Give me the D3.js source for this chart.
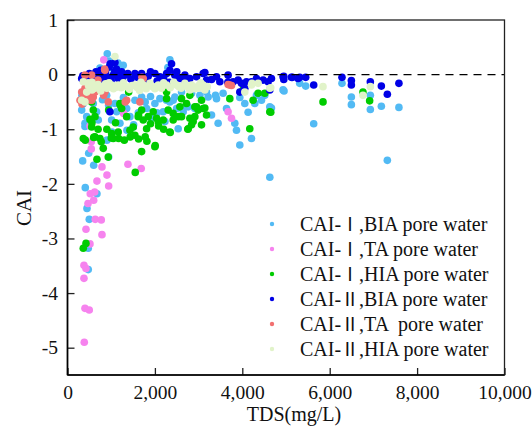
<!DOCTYPE html>
<html>
<head>
<meta charset="utf-8">
<script src="https://cdn.jsdelivr.net/npm/d3@7"></script>
<style>
  html, body { margin: 0; padding: 0; background: #fff; }
  svg { display: block; }
</style>
</head>
<body>
<svg id="chart" width="532" height="427"></svg>
<script>
// Axis ticks
const xTicks = [0, 2000, 4000, 6000, 8000, 10000];
const yTicks = [-5, -4, -3, -2, -1, 0, 1];

// [TDS (mg/L), CAI] for each group
const caiIBIA = [
  [4955,-0.30],[5314,-0.16],[5451,-0.21],[6281,-0.16],[5634,-0.90],[6496,-0.41],[6496,-0.55],[6930,-0.38],[6930,-0.64],[7182,-0.58],[7584,-0.60],[7319,-1.57],
  [2418,-0.47],[2686,-0.59],[2761,-0.59],[2647,-0.68],[3218,-0.41],[3387,-0.38],[3943,-0.42],[4057,-0.53],[4514,-0.38],[4667,-0.61],[4133,-0.69],[3447,-0.89],[3829,-0.89],[2533,-0.99],[2267,-0.47],
  [325,-0.65],[439,-0.77],[400,-0.89],[590,-0.53],[667,-0.68],[704,-0.83],[896,-0.38],[1086,-0.53],[1125,-0.68],[1010,-0.83],[1200,-0.89],[1353,-0.62],[1429,-0.77],[1504,-0.96],[1543,-0.47],[1696,-0.41],[1810,-0.62],[1924,-0.80],[2000,-0.53],[2114,-0.44],[2190,-0.68],[2229,-0.86],[2343,-0.50],[2457,-0.41],[2496,-0.62],[2610,-0.32],[2839,-0.34],[2914,-0.62],[3029,-0.38],[3181,-0.32],[3296,-0.74],[3410,-0.44],[3561,-0.34],[3639,-0.62],[3867,-1.02],[3943,-1.29],[4210,-1.17],[4286,-0.53],[4324,-0.38],[4439,-0.47],[4629,-0.59],[4933,-0.28],[4630,-1.88],
  [910,0.38],[955,0.25],[1275,0.17],[1154,0.21],[2343,0.27],[2297,0.13],[1017,0.12],[743,0.12],[1207,0.14],
  [400,-0.95],[1017,-1.05],[1360,-1.02],[903,-1.20],[485,-1.44],[347,-1.58],[599,-1.66],[942,-1.51],[407,-2.07],[674,-2.18],[446,-2.45],[498,-2.65],[475,-3.18],[475,-3.57],
  [354,-0.54],[331,-0.38],[942,-0.56],[1513,-0.92],[1778,-0.50],[560,-0.40],[800,-0.46],[1280,-0.42],[1620,-0.70],[2050,-0.70],[1900,-0.40]
];
const caiITA = [
  [830,0.27],[3675,-0.68],[3753,-0.80],[544,-1.23],[544,-1.36],[789,-1.69],[903,-1.84],[674,-1.95],[942,-2.04],[1383,-1.64],[1687,-1.72],[521,-2.18],[622,-2.15],[599,-2.30],[469,-2.36],[635,-2.65],[773,-2.66],[423,-2.83],[789,-2.93],[514,-3.10],[377,-3.49],[423,-3.55],[377,-3.73],[400,-4.28],[498,-4.31],[384,-4.90],[1285,-0.71],[514,-0.94]
];
const caiIHIA = [
  [5847,-0.50],[6914,-0.48],[6761,-0.32],
  [2267,-0.32],[2267,-0.44],[2610,-0.44],[2571,-0.59],[2418,-0.71],[2610,-0.77],[2800,-0.80],[2953,-0.59],[2990,-0.65],[3143,-0.61],[3181,-0.74],[2914,-0.77],[3714,-0.44],[4247,-0.47],[4362,-0.34],[4651,-0.69],[3067,-0.92],[2839,-0.92],[4171,-0.99],
  [361,-1.17],[553,-0.50],[590,-0.65],[629,-0.77],[553,-0.96],[629,-1.14],[743,-1.17],[818,-1.35],[933,-1.51],[1010,-1.08],[1047,-1.17],[1161,-1.05],[1200,-0.53],[1239,-0.62],[1353,-0.77],[1429,-1.02],[1504,-0.96],[1543,-1.11],[1618,-0.77],[1696,-0.65],[1733,-0.83],[1810,-0.99],[1847,-0.77],[1961,-0.68],[2000,-1.32],[2039,-0.80],[2076,-0.86],[2190,-0.83],[2304,-0.65],[2343,-1.05],[2418,-0.83],[2533,-0.77],[2724,-0.53],[2800,-0.38],[2761,-0.99],[2876,-0.86],[2914,-0.59],[3067,-0.47],[3104,-0.62],[4019,-0.28],[4514,-0.34],[4629,-0.68],[1696,-1.41],
  [407,-1.20],[599,-1.15],[773,-1.23],[674,-1.55],[1001,-1.16],[1170,-1.17],[1435,-1.14],[1627,-1.18],[1778,-1.14],[1817,-1.22],[2085,-0.94],[2007,-1.30],[2350,-1.06],[1550,-1.79],[2754,-1.00],[361,-3.18],[423,-3.09],
  [942,-0.65],[1207,-0.56],[1399,-0.32],[1627,-0.74],[514,-0.82],[560,-0.88],[700,-1.00],[1100,-0.88],[1300,-1.20],[900,-1.00],[1900,-0.90],[2200,-1.00]
];
const caiIIBIA = [
  [325,-0.07],[400,-0.13],[590,-0.01],[704,-0.04],[818,-0.01],[955,0.14],[1047,-0.01],[1161,-0.07],[1239,0.05],[1314,-0.01],[1543,0.02],[1696,0.02],[1847,-0.03],[2000,0.02],[2114,-0.04],[2267,0.02],[2343,0.08],[2457,-0.01],[2571,-0.07],[2686,-0.01],[2800,-0.07],[2953,-0.04],[3104,0.02],[3181,-0.10],[3296,-0.09],[3410,-0.04],[3486,-0.13],[3675,-0.01],[3790,-0.13],[3904,-0.10],[3981,-0.16],[4096,-0.13],[4210,-0.13],[4324,-0.07],[4476,-0.10],[4590,-0.13],[4667,-0.07],[4933,-0.04],[5124,-0.05],[5276,-0.07],
  [2381,0.20],[3143,0.04],[3943,-0.32],[4057,-0.25],[4629,-0.28],[3669,-0.14],[1086,0.22],
  [350,-0.02],[450,-0.05],[500,0.02],[560,-0.10],[650,0.05],[760,0.08],[780,-0.08],[870,0.05],[900,-0.04],[980,0.20],[1000,-0.10],[1080,0.05],[1120,0.10],[1180,-0.02],[1260,-0.12],[1380,0.02],[1450,-0.08],[1600,-0.05],[1750,-0.10],[1900,0.05],[2050,-0.12],[2200,-0.06],[2330,-0.14],[2500,0.05],[2650,-0.08],[971,-0.68],
  [4949,-0.03],[4949,-0.09],[5147,-0.05],[5314,-0.05],[5451,-0.05],[5634,-0.19],[6281,-0.05],[6496,-0.11],[6496,-0.19],[6930,-0.13],[7182,-0.21],[7319,-0.36],[7584,-0.16]
];
const caiIITA = [
  [553,-0.01],[850,0.10],[1703,-0.05],[1733,-0.07],[407,-0.41],[521,-0.47],[400,-0.25],[439,-0.32],[361,-0.41],[475,-0.38],[590,-0.41],[629,-0.32],[743,-0.28],[857,-0.32],[933,-0.50],[827,-0.38],[1353,-0.47],[1321,-0.50],[1657,-0.50],[325,-0.32],[553,-0.47],[857,0.08],[400,-0.01],[3675,-0.18],[3753,-0.20],[3710,-0.19],[286,-0.47],[331,-0.54],[697,-0.10],[743,-0.25]
];
const caiIIHIA = [
  [1086,0.33],[439,-0.32],[325,-0.47],[400,-0.50],[629,-0.25],[818,-0.22],[1010,-0.19],[1161,-0.19],[1353,-0.22],[1543,-0.19],[1733,-0.19],[1886,-0.16],[2076,-0.19],[2267,-0.19],[2496,-0.19],[2686,-0.16],[2839,-0.19],[2990,-0.25],[3104,-0.19],[3143,-0.28],[4057,-0.32],[4210,-0.19],[4362,-0.16],[4629,-0.25],[4222,-0.16],[4651,-0.24],[5847,-0.22],[6761,-0.38],[6930,-0.22],
  [480,-0.20],[560,-0.28],[700,-0.18],[760,-0.30],[900,-0.25],[950,-0.15],[1050,-0.26],[1230,-0.24],[1280,-0.15],[1420,-0.27],[1600,-0.24],[1680,-0.14],[1800,-0.26],[1950,-0.22],[2150,-0.25],[2350,-0.24],[2430,-0.14],[2600,-0.25],[2750,-0.22],[2900,-0.26],[3050,-0.15],[3200,-0.22],[360,-0.13],[470,-0.15],[560,-0.14],
  [650,-0.20],[870,-0.17],[1120,-0.23],[1480,-0.20],[1650,-0.29],[2000,-0.26],[2200,-0.15],[2550,-0.22],[2800,-0.28],[3000,-0.20]
];

const seriesNames = [
  ["CAI-", "Ⅰ", ",BIA pore water"],
  ["CAI-", "Ⅰ", ",TA pore water"],
  ["CAI-", "Ⅰ", ",HIA pore water"],
  ["CAI-", "Ⅱ", ",BIA pore water"],
  ["CAI-", "Ⅱ", ",TA  pore water"],
  ["CAI-", "Ⅱ", ",HIA pore water"]
];
const seriesColors = ["#52baf4", "#f683ee", "#00cc00", "#0000e6", "#f27070", "#e1f3c9"];
const seriesData = [caiIBIA, caiITA, caiIHIA, caiIIBIA, caiIITA, caiIIHIA];

const SERIF = "'Liberation Serif'";
const svg = d3.select("#chart");
const plotLeft = 67.5, plotRight = 504.5, plotTop = 20, plotBottom = 375;

const x = d3.scaleLinear().domain([0, 10000]).range([plotLeft, plotRight]);
const y = d3.scaleLinear().domain([-5.5, 1]).range([plotBottom, plotTop]);

// Points, first group at the back
seriesData.forEach((data, i) => {
  svg.append("g")
    .selectAll("circle")
    .data(data)
    .join("circle")
    .attr("cx", d => x(d[0]))
    .attr("cy", d => y(d[1]))
    .attr("r", 3.8)
    .attr("fill", seriesColors[i]);
});

// Zero reference line
svg.append("line")
  .attr("x1", plotLeft).attr("x2", plotRight)
  .attr("y1", y(0)).attr("y2", y(0))
  .attr("stroke", "#000").attr("stroke-width", 1.4)
  .attr("stroke-dasharray", "8,6");

// Frame
svg.append("rect")
  .attr("x", plotLeft).attr("y", plotTop)
  .attr("width", plotRight - plotLeft).attr("height", plotBottom - plotTop)
  .attr("fill", "none").attr("stroke", "#222").attr("stroke-width", 1.3);

// Axes with inward ticks
const xAxis = svg.append("g")
  .attr("transform", `translate(0,${plotBottom})`)
  .call(d3.axisBottom(x).tickValues(xTicks).tickFormat(d3.format(","))
    .tickSizeInner(-7).tickSizeOuter(0).tickPadding(10));
const yAxis = svg.append("g")
  .attr("transform", `translate(${plotLeft},0)`)
  .call(d3.axisLeft(y).tickValues(yTicks).tickFormat(d => String(d))
    .tickSizeInner(-7).tickSizeOuter(0).tickPadding(9.5));

[xAxis, yAxis].forEach(g => {
  g.select(".domain").remove();
  g.attr("font-family", SERIF).attr("font-size", 19.5);
  g.selectAll(".tick line").attr("stroke", "#222").attr("stroke-width", 1.3);
  g.selectAll(".tick text")
    .style("font-family", SERIF)
    .style("font-size", "19.5px")
    .attr("fill", "#111");
});

// Left and bottom axis lines drawn heavier
svg.append("line").attr("x1", plotLeft).attr("x2", plotLeft).attr("y1", plotTop).attr("y2", plotBottom)
  .attr("stroke", "#000").attr("stroke-width", 1.6);
svg.append("line").attr("x1", plotLeft).attr("x2", plotRight).attr("y1", plotBottom).attr("y2", plotBottom)
  .attr("stroke", "#000").attr("stroke-width", 1.6);

// Axis titles
svg.append("text")
  .attr("x", 294).attr("y", 421)
  .attr("text-anchor", "middle")
  .style("font-family", SERIF)
  .style("font-size", "20px")
  .attr("fill", "#111")
  .text("TDS(mg/L)");
svg.append("text")
  .attr("transform", "translate(31,208) rotate(-90)")
  .attr("text-anchor", "middle")
  .style("font-family", SERIF)
  .style("font-size", "21px")
  .attr("fill", "#111")
  .text("CAI");

// Legend
const legend = svg.append("g");
seriesNames.forEach((parts, i) => {
  const cy = 224 + i * 25;
  legend.append("circle")
    .attr("cx", 272).attr("cy", cy).attr("r", 2.2)
    .attr("fill", seriesColors[i]);
  const t = legend.append("text")
    .attr("x", 300).attr("y", cy + 7)
    .attr("fill", "#111")
    .style("font-family", SERIF)
    .style("font-size", "20px")
    .style("white-space", "pre");
  t.append("tspan").text(parts[0]);
  t.append("tspan").style("font-family", "'Noto Sans CJK SC'").style("font-size", "18px").text(parts[1]);
  t.append("tspan").text(parts[2]);
});
</script>
</body>
</html>
